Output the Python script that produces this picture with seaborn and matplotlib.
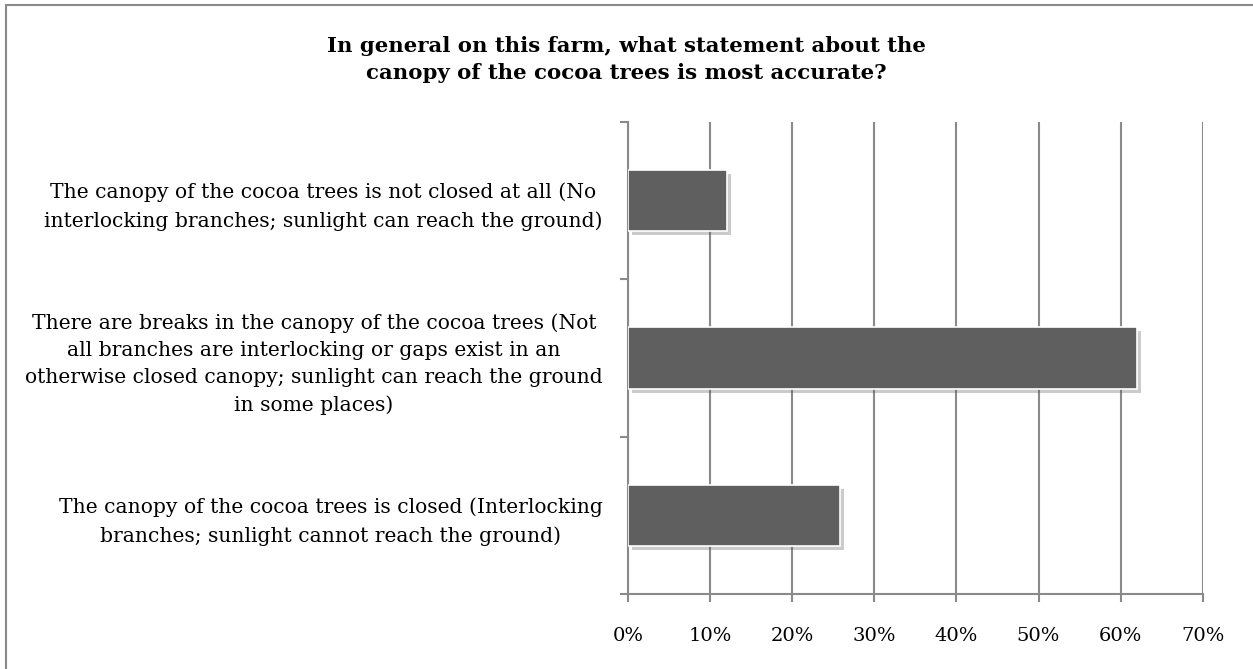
import numpy as np
import pandas as pd
import seaborn as sns
import matplotlib.pyplot as plt
import matplotlib.patheffects as pe
from matplotlib.patches import Rectangle
from matplotlib.ticker import PercentFormatter

# Data (share of farms, %)
answers = [
    "The canopy of the cocoa trees is not closed at all (No\ninterlocking branches; sunlight can reach the ground)",
    "There are breaks in the canopy of the cocoa trees (Not\nall branches are interlocking or gaps exist in an\notherwise closed canopy; sunlight can reach the ground\nin some places)",
    "The canopy of the cocoa trees is closed (Interlocking\nbranches; sunlight cannot reach the ground)",
]
shares = [12.1, 62.0, 25.8]
x_ticks = [0, 10, 20, 30, 40, 50, 60, 70]

title = "In general on this farm, what statement about the\ncanopy of the cocoa trees is most accurate?"

sns.set_theme(style="white")
plt.rcParams["font.family"] = ["DejaVu Serif"]
plt.rcParams["text.color"] = "black"
plt.rcParams["xtick.labelcolor"] = "black"
plt.rcParams["ytick.labelcolor"] = "black"

grey = "#8a8a8a"
df = pd.DataFrame({"answer": answers, "share": shares})

fig = plt.figure(figsize=(12.53, 6.69), dpi=100)
ax = fig.add_axes([0.501, 0.112, 0.459, 0.706])

sns.barplot(data=df, y="answer", x="share", orient="h", color="#5f5f5f",
            saturation=1, width=0.39, ax=ax, zorder=3)
for bar in ax.patches:
    bar.set_edgecolor("white")
    bar.set_linewidth(1.2)
    bar.set_path_effects([pe.SimplePatchShadow(offset=(3, -3), shadow_rgbFace="#555555", alpha=0.3),
                          pe.Normal()])

ax.set_xlim(0, 70)
ax.set_ylim(2.5, -0.5)
ax.set_xticks(x_ticks)
ax.xaxis.set_major_formatter(PercentFormatter(decimals=0))
ax.set_yticks([-0.5, 0.5, 1.5, 2.5], minor=True)
ax.grid(axis="x", color=grey, linewidth=1.5, zorder=0)
ax.set_axisbelow(True)

for side in ["top", "right"]:
    ax.spines[side].set_visible(False)
for side in ["left", "bottom"]:
    ax.spines[side].set_color(grey)
    ax.spines[side].set_linewidth(1.5)

ax.tick_params(axis="x", which="major", direction="out", length=6, width=1.5,
               color=grey, pad=18, labelsize=14, bottom=True)
ax.tick_params(axis="y", which="major", length=0, pad=18, labelsize=14.6)
ax.tick_params(axis="y", which="minor", direction="out", length=6, width=1.5,
               color=grey, left=True)
for lbl in ax.get_yticklabels():
    lbl.set_multialignment("center")
    lbl.set_linespacing(1.55)

ax.set_xlabel("")
ax.set_ylabel("")

fig.text(0.5, 0.946, title, ha="center", va="top", fontsize=15.3,
         fontweight="bold", linespacing=1.45)

fig.add_artist(Rectangle((0.005, -0.05), 1.1, 1.043, transform=fig.transFigure,
                         fill=False, edgecolor=grey, linewidth=1.5))

fig.savefig("out.png", dpi=100)
